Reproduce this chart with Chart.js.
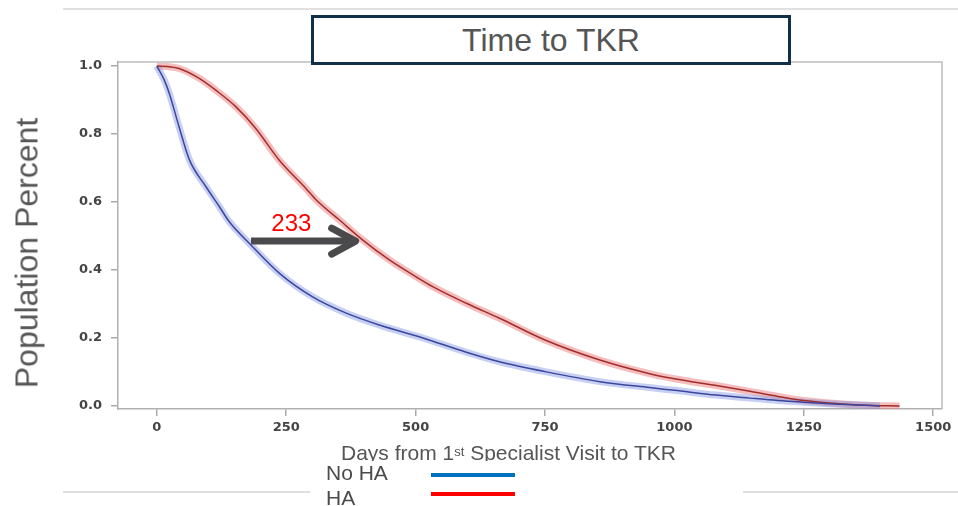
<!DOCTYPE html>
<html>
<head>
<meta charset="utf-8">
<script src="https://cdn.jsdelivr.net/npm/chart.js@4.4.1/dist/chart.umd.min.js"></script>
<style>
  html, body { margin:0; padding:0; background:#fff; overflow:hidden; }
  #wrap { position:relative; width:958px; height:506px; font-family:"Liberation Sans", Arial, sans-serif; }
  #c { position:absolute; left:0; top:0; }
  .hl { position:absolute; height:2px; background:#e0e0e0; }
  #title { position:absolute; left:311px; top:15px; width:474px; height:44px; border:3px solid #10304a; background:#fff;
           display:flex; align-items:center; justify-content:center; font-size:32px; color:#555; z-index:3; }
  #ytitle { position:absolute; left:27px; top:253px; transform:translate(-50%,-50%) rotate(-90deg); white-space:nowrap;
            font-size:32px; color:#555; }
  #xtitle { position:absolute; left:341px; top:442px; font-size:21px; line-height:21px; color:#555; white-space:nowrap; z-index:1; }
  #xtitle sup { font-size:13px; vertical-align:top; position:relative; top:-1px; }
  #legbox { position:absolute; left:310px; top:461px; width:433px; height:45px; background:#fff; z-index:2; overflow:hidden; }
  .lt { position:absolute; font-size:21px; line-height:21px; color:#4a4a4a; white-space:nowrap; }
  .ll { position:absolute; height:4px; width:84px; }
</style>
</head>
<body>
<div id="wrap">
  <div class="hl" style="left:63px; top:8px; width:895px;"></div>
  <div class="hl" style="left:63px; top:491px; width:895px;"></div>
  <canvas id="c" width="958" height="506"></canvas>
  <div id="title">Time to TKR</div>
  <div id="ytitle">Population Percent</div>
  <div id="xtitle">Days from 1<sup>st</sup> Specialist Visit to TKR</div>
  <div id="legbox">
    <div class="lt" style="left:16px; top:1px;">No HA</div>
    <div class="ll" style="left:121px; top:12px; background:#0070c0;"></div>
    <div class="lt" style="left:16px; top:26px;">HA</div>
    <div class="ll" style="left:121px; top:31px; background:#ff0000;"></div>
  </div>
</div>
<script>
// ---- data ----
const noHADays = [0, 14, 24, 43, 63, 95, 121, 140, 179, 237, 301, 366, 430, 514, 598, 662, 750, 856, 952, 1000, 1081, 1146, 1200, 1250, 1307, 1350, 1397];
const noHAVals = [1.0, 0.960, 0.920, 0.821, 0.724, 0.645, 0.586, 0.542, 0.478, 0.390, 0.321, 0.273, 0.238, 0.200, 0.158, 0.130, 0.101, 0.0715, 0.054, 0.046, 0.032, 0.023, 0.016, 0.011, 0.006, 0.003, 0.0];
const haDays = [0, 20, 43, 82, 114, 153, 192, 237, 288, 308, 353, 398, 450, 501, 533, 598, 662, 750, 856, 952, 1000, 1081, 1146, 1200, 1250, 1307, 1372, 1435];
const haVals = [1.0, 0.999, 0.993, 0.964, 0.929, 0.880, 0.815, 0.722, 0.640, 0.606, 0.547, 0.488, 0.429, 0.380, 0.351, 0.302, 0.258, 0.194, 0.135, 0.095, 0.080, 0.060, 0.043, 0.028, 0.016, 0.008, 0.002, 0.0];
const xTicks = [0, 250, 500, 750, 1000, 1250, 1500];
const xTickLabels = ['0', '250', '500', '750', '1000', '1250', '1500'];
const yTicks = [0, 0.2, 0.4, 0.6, 0.8, 1.0];
const yTickLabels = ['0.0', '0.2', '0.4', '0.6', '0.8', '1.0'];
const arrowFrom = [182, 0.485];
const arrowTo = [388, 0.485];
const arrowLabel = '233';
const arrowLabelPos = [260, 0.535];

const toPts = (xs, ys) => xs.map((x, i) => ({x: x, y: ys[i]}));

const annot = {
  id: 'annot',
  afterDatasetsDraw(chart) {
    const {ctx, chartArea: a, scales: {x, y}} = chart;
    ctx.save();
    // top and right frame
    ctx.strokeStyle = '#bdbdbd';
    ctx.lineWidth = 1.5;
    ctx.beginPath();
    ctx.moveTo(a.left, a.top); ctx.lineTo(a.right, a.top); ctx.lineTo(a.right, a.bottom);
    ctx.stroke();
    // arrow
    const x0 = x.getPixelForValue(arrowFrom[0]), y0 = y.getPixelForValue(arrowFrom[1]);
    const x1 = x.getPixelForValue(arrowTo[0]), y1 = y.getPixelForValue(arrowTo[1]);
    ctx.strokeStyle = '#4a4a4c';
    ctx.lineWidth = 7;
    ctx.lineCap = 'butt';
    ctx.beginPath(); ctx.moveTo(x0, y0); ctx.lineTo(x1 - 4, y1); ctx.stroke();
    ctx.lineCap = 'round'; ctx.lineJoin = 'round';
    ctx.beginPath();
    ctx.moveTo(x1 - 26, y1 - 13); ctx.lineTo(x1 - 2, y1); ctx.lineTo(x1 - 26, y1 + 13);
    ctx.stroke();
    // label
    ctx.fillStyle = '#ff0000';
    ctx.font = '24px "Liberation Sans", Arial, sans-serif';
    ctx.textAlign = 'center'; ctx.textBaseline = 'middle';
    ctx.fillText(arrowLabel, x.getPixelForValue(arrowLabelPos[0]), y.getPixelForValue(arrowLabelPos[1]));
    ctx.restore();
  }
};

const lineDs = (pts, color, width, order) => ({
  data: pts, borderColor: color, borderWidth: width, pointRadius: 0, fill: false,
  tension: 0.4, cubicInterpolationMode: 'monotone', order: order
});

new Chart(document.getElementById('c'), {
  type: 'line',
  data: {
    datasets: [
      lineDs(toPts(noHADays, noHAVals), '#3b469c', 1.5, 1),
      lineDs(toPts(haDays, haVals), '#a22e2c', 1.5, 1),
      lineDs(toPts(noHADays, noHAVals), 'rgba(130,150,228,0.45)', 7, 2),
      lineDs(toPts(haDays, haVals), 'rgba(235,125,125,0.5)', 7, 2)
    ]
  },
  options: {
    responsive: false,
    devicePixelRatio: 1,
    animation: false,
    layout: { padding: { top: 62, right: 16, left: 0, bottom: 0 } },
    plugins: { legend: { display: false }, tooltip: { enabled: false } },
    scales: {
      x: {
        type: 'linear', min: -75, max: 1517,
        afterBuildTicks: s => { s.ticks = xTicks.map(v => ({value: v})); },
        afterFit: s => { s.height = 97; },
        ticks: { callback: (v, i) => xTickLabels[i], font: { family: 'DejaVu Sans', size: 13, weight: 'bold' }, color: '#444', padding: 4, maxRotation: 0 },
        grid: { drawOnChartArea: false, tickLength: 7, color: '#aaa', lineWidth: 1.5 },
        border: { color: '#b0b0b0', width: 1.5 }
      },
      y: {
        type: 'linear', min: -0.009, max: 1.012,
        afterBuildTicks: s => { s.ticks = yTicks.map(v => ({value: v})); },
        afterFit: s => { s.width = 118; },
        ticks: { callback: (v, i) => yTickLabels[i], font: { family: 'DejaVu Sans', size: 13, weight: 'bold' }, color: '#444', padding: 9 },
        grid: { drawOnChartArea: false, tickLength: 7, color: '#aaa', lineWidth: 1.5 },
        border: { color: '#b0b0b0', width: 1.5 }
      }
    }
  },
  plugins: [annot]
});
</script>
</body>
</html>
